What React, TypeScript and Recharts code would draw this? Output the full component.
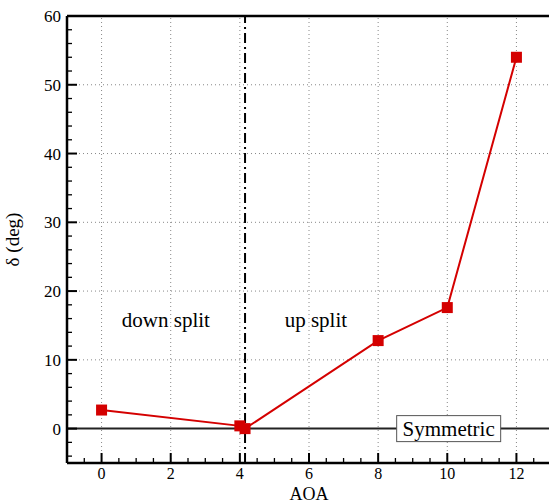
import { LineChart, Line, XAxis, YAxis, ReferenceLine, ReferenceDot } from 'recharts';

// angle of attack vs. split angle
const aoa = [0, 4, 4.15, 8, 10, 12];
const delta = [2.7, 0.4, 0, 12.8, 17.6, 54];

const xMajor = [0, 2, 4, 6, 8, 10, 12];
const yMajor = [0, 10, 20, 30, 40, 50, 60];
const xGrid = [0, 2, 4, 6, 8, 10, 12];
const yGrid = [10, 20, 30, 40, 50];
const splitAoa = 4.15;

const xTicks: number[] = [];
for (let v = -0.5; v <= 13; v += 0.5) xTicks.push(v);
const yTicks: number[] = [];
for (let v = -4; v <= 60; v += 2) yTicks.push(v);

const data = aoa.map((a, i) => ({ aoa: a, delta: delta[i] }));

const RED = '#d40000';
const FONT = '"Liberation Serif", "Times New Roman", serif';
const serif = { fontFamily: FONT };

const XTick = (props: any) => {
  const { x, y, payload } = props;
  const major = xMajor.includes(payload.value);
  return (
    <g>
      <line x1={x} x2={x} y1={y} y2={y - (major ? 10 : 5)} stroke="#000" strokeWidth={major ? 2 : 1.3} />
      {major && (
        <text x={x} y={y + 16} textAnchor="middle" fontSize={16} style={serif} fill="#000">
          {payload.value}
        </text>
      )}
    </g>
  );
};

const YTick = (props: any) => {
  const { x, y, payload } = props;
  const major = yMajor.includes(payload.value);
  return (
    <g>
      <line x1={x} x2={x + (major ? 10 : 5)} y1={y} y2={y} stroke="#000" strokeWidth={major ? 2 : 1.3} />
      {major && (
        <text x={x - 6} y={y + 6} textAnchor="end" fontSize={17} style={serif} fill="#000">
          {payload.value}
        </text>
      )}
    </g>
  );
};

const SquareDot = (props: any) => {
  const { cx, cy, index } = props;
  return <rect key={index} x={cx - 5.5} y={cy - 5.5} width={11} height={11} fill={RED} />;
};

const SymmetricBox = (props: any) => {
  const { cx, cy } = props;
  return (
    <g>
      <rect x={cx - 52} y={cy - 13} width={104} height={26} fill="#fff" stroke="#555" strokeWidth={1} />
      <text x={cx} y={cy + 7} textAnchor="middle" fontSize={21} style={serif} fill="#000">
        Symmetric
      </text>
    </g>
  );
};

const regionLabel = (text: string) => (props: any) => {
  const { cx, cy } = props;
  return (
    <text x={cx} y={cy + 6} textAnchor="middle" fontSize={21} style={serif} fill="#000">
      {text}
    </text>
  );
};

export default function App() {
  return (
    <div style={{ position: 'absolute', left: 0, top: 0, width: 549, height: 503, overflow: 'hidden', background: '#fff', fontFamily: FONT }}>
      <LineChart width={551} height={503} data={data} margin={{ top: 16, right: 0, bottom: 0, left: 0 }}>
        {xGrid.map((v) => (
          <ReferenceLine key={`gx${v}`} x={v} stroke="#888" strokeDasharray="1 3" strokeWidth={1} />
        ))}
        {yGrid.map((v) => (
          <ReferenceLine key={`gy${v}`} y={v} stroke="#888" strokeDasharray="1 3" strokeWidth={1} />
        ))}
        <ReferenceLine y={60} stroke="#000" strokeWidth={2.5} />
        <ReferenceLine y={0} stroke="#222" strokeWidth={2} />
        <ReferenceLine x={splitAoa} stroke="#000" strokeWidth={2} strokeDasharray="10 4 2 4" />
        <XAxis
          dataKey="aoa"
          type="number"
          domain={[-1, 13]}
          ticks={xTicks}
          interval={0}
          tickSize={0}
          tickMargin={0}
          tick={<XTick />}
          height={40}
          axisLine={{ stroke: '#000', strokeWidth: 2.5 }}
          label={{ value: 'AOA', position: 'insideBottom', offset: 3, fontSize: 18, style: serif, fill: '#000' }}
        />
        <YAxis
          type="number"
          domain={[-5, 60]}
          ticks={yTicks}
          interval={0}
          tickSize={0}
          tickMargin={0}
          tick={<YTick />}
          width={67}
          axisLine={{ stroke: '#000', strokeWidth: 2.5 }}
          label={{ value: 'δ (deg)', angle: -90, position: 'insideLeft', offset: 12, fontSize: 19, fill: '#000', style: { ...serif, textAnchor: 'middle' } }}
        />
        <ReferenceDot x={1.86} y={15.6} r={0} shape={regionLabel('down split')} />
        <ReferenceDot x={6.2} y={15.6} r={0} shape={regionLabel('up split')} />
        <Line
          dataKey="delta"
          stroke={RED}
          strokeWidth={2}
          dot={<SquareDot />}
          activeDot={false}
          isAnimationActive={false}
        />
        <ReferenceDot x={10.04} y={0} r={0} shape={SymmetricBox} />
      </LineChart>
    </div>
  );
}
